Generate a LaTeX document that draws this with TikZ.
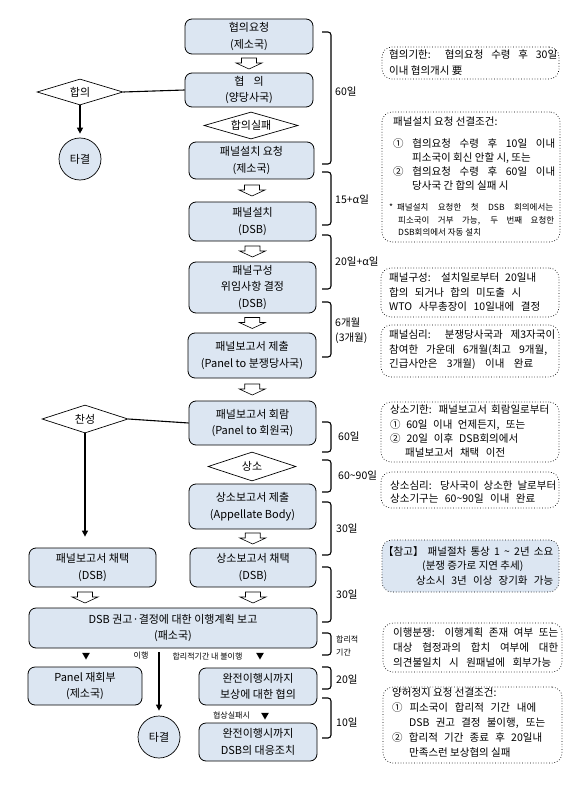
\documentclass[tikz,border=0pt]{standalone}
\usepackage{fontspec}
\setmainfont{Noto Sans CJK KR}
\usetikzlibrary{shapes.geometric,arrows.meta,calc}
\definecolor{boxblue}{RGB}{220,230,242}
\newcommand\jl[2]{\makebox[#1pt][s]{#2}}
\newcommand\bracepath[2]{\draw[brk] (322,#1) -- (331,#1) -- (331,#2) -- (322,#2);}
\tikzset{
  box/.style={draw, line width=0.8pt, rounded corners=7pt, fill=boxblue, inner sep=0pt, align=center, font=\fontsize{11}{16.5}\selectfont},
  diam/.style={draw, shape=diamond, aspect=3.3, fill=white, inner sep=0pt, line width=0.7pt, font=\fontsize{11}{12}\selectfont},
  circ/.style={draw, circle, fill=boxblue, minimum size=42pt, inner sep=0pt, line width=0.7pt, font=\fontsize{11}{12}\selectfont},
  note/.style={draw, dotted, line width=0.7pt, rounded corners=10pt, inner sep=0pt},
  ntext/.style={anchor=west, align=left, inner sep=0pt, font=\fontsize{10.5}{14.3}\selectfont},
  lab/.style={anchor=west, align=left, inner sep=0pt, font=\fontsize{10.5}{15}\selectfont},
  small/.style={inner sep=0pt, font=\fontsize{8}{13}\selectfont},
  brk/.style={line width=1.1pt, rounded corners=3pt},
  conn/.style={line width=1.1pt},
  arr/.style={line width=1.1pt, -{Triangle[length=6pt,width=6pt]}},
  tri/.style={fill=black, regular polygon, regular polygon sides=3, shape border rotate=180, minimum size=9pt, inner sep=0pt},
  hollow/.pic={\draw[line width=0.6pt, fill=white] (-7.5,-5.5) -- (7.5,-5.5) -- (7.5,-0.5) -- (13,-0.5) -- (0,5.5) -- (-13,-0.5) -- (-7.5,-0.5) -- cycle;}
}
\begin{document}
\begin{tikzpicture}[x=1pt,y=-1pt]
\useasboundingbox (0,0) rectangle (586,805);

% main boxes
\node[box, minimum width=128pt, minimum height=35pt] (b1) at (249,36.5) {협의요청\\(제소국)};
\node[box, minimum width=128pt, minimum height=34pt] (b2) at (249,90) {협\hspace{9pt}의\\(양당사국)};
\node[box, minimum width=125pt, minimum height=37pt] (b3) at (251.5,160.5) {패널설치 요청\\(제소국)};
\node[box, minimum width=127pt, minimum height=39pt] (b4) at (252.5,221.5) {패널설치\\(DSB)};
\node[box, minimum width=127pt, minimum height=51pt] (b5) at (252.5,287.5) {패널구성\\위임사항 결정\\(DSB)};
\node[box, minimum width=128pt, minimum height=45pt] (b6) at (252,355.5) {패널보고서 제출\\(Panel to 분쟁당사국)};
\node[box, minimum width=127pt, minimum height=44pt] (b7) at (252.5,423) {패널보고서 회람\\(Panel to 회원국)};
\node[box, minimum width=127pt, minimum height=45pt] (b8) at (252.5,506.5) {상소보고서 제출\\(Appellate Body)};
\node[box, minimum width=126pt, minimum height=39pt] (b9) at (253,567.5) {상소보고서 채택\\(DSB)};
\node[box, minimum width=127pt, minimum height=39pt] (b10) at (92.5,567.5) {패널보고서 채택\\(DSB)};
\node[box, minimum width=288pt, minimum height=40pt] (b11) at (173,628) {DSB 권고·결정에 대한 이행계획 보고\\(패소국)};
\node[box, minimum width=114pt, minimum height=38pt] (b12) at (85,686) {Panel 재회부\\(제소국)};
\node[box, minimum width=118pt, minimum height=37pt] (b13) at (258,686.5) {완전이행시까지\\보상에 대한 협의};
\node[box, minimum width=118pt, minimum height=38pt] (b14) at (258,742) {완전이행시까지\\DSB의 대응조치};

% diamonds and circles
\node[diam, minimum width=86pt, minimum height=26pt] (d1) at (80,92) {합의};
\node[diam, minimum width=94pt, minimum height=27pt] (d2) at (251,125.5) {합의실패};
\node[diam, minimum width=86pt, minimum height=28pt] (d3) at (85,419) {찬성};
\node[diam, minimum width=88pt, minimum height=29pt] (d4) at (252,466.5) {상소};
\node[circ] (c1) at (80,159) {타결};
\node[circ] (c2) at (159,737) {타결};

% connectors
\draw[conn] (d1.east) -- (b2.west);
\draw[arr, shorten >=4pt] (d1.south) -- (c1.north);
\draw[conn] (d3.east) -- (b7.west);
\draw[arr, shorten >=11pt] (d3.south) -- (d3.south |- b10.north);
\coordinate (s11) at (159,652);
\draw[arr, shorten >=5pt] (s11) -- (c2.north);

% hollow arrows
\pic at ($(b1.south)!0.5!(b2.north)$) {hollow};
\pic at ($(b3.south)!0.5!(b4.north)$) {hollow};
\pic at ($(b4.south)!0.5!(b5.north)$) {hollow};
\pic at ($(b5.south)!0.5!(b6.north)$) {hollow};
\pic at ($(b6.south)!0.5!(b7.north)$) {hollow};
\pic at ($(b8.south)!0.5!(b9.north)$) {hollow};
\pic at ($(b9.south)!0.5!(b9.south |- b11.north)$) {hollow};
\pic at ($(d3.south |- b10.south)!0.5!(d3.south |- b11.north)$) {hollow};

% small markers and labels
\node[tri] (t1) at (86,655) {};
\node[tri] (t2) at (260,655) {};
\node[tri] (t3) at (265,715) {};
\node[small] (s1) at (141,656) {이행};
\node[small] (s2) at (207.5,656) {합리적기간 내 불이행};
\node[small] (s3) at (231.5,715) {협상실패시};

% braces
\bracepath{32}{164}
\bracepath{172}{225}
\bracepath{235}{289}
\bracepath{302}{357}
\bracepath{422}{452}
\bracepath{460}{492}
\bracepath{502}{555}
\bracepath{567}{622}
\bracepath{633}{655}
\bracepath{667}{689}
\bracepath{698}{738}
\node[lab] (l1) at (335,92) {60일};
\node[lab] (l2) at (335,200) {15+α일};
\node[lab] (l3) at (335,262) {20일+α일};
\node[lab] (l4) at (335,330.5) {6개월\\(3개월)};
\node[lab] (l5) at (338,437) {60일};
\node[lab] (l6) at (338,475) {60\textasciitilde90일};
\node[lab] (l7) at (336,528) {30일};
\node[lab] (l8) at (336,594) {30일};
\node[lab, font=\fontsize{8}{13}\selectfont] (l9) at (336,645.5) {합리적\\기간};
\node[lab] (l10) at (336,679) {20일};
\node[lab] (l11) at (336,722) {10일};

% notes
\node[note, minimum width=177pt, minimum height=32pt] (n1) at (470.5,63) {};
\node[ntext, font=\fontsize{10.5}{16}\selectfont] (n1t) at (389,63) {\jl{168}{협의기한: 협의요청 수령 후 30일}\\이내 협의개시 要};

\node[note, minimum width=178pt, minimum height=130pt] (n2) at (471,177) {};
\node[ntext] (n2a) at (393,122) {패널설치 요청 선결조건:};
\node[ntext, font=\fontsize{10.5}{14}\selectfont] (n2b) at (393,164) {\jl{162}{① 협의요청 수령 후 10일 이내}\\\hspace*{19pt}피소국이 회신 안할 시, 또는\\\jl{162}{② 협의요청 수령 후 60일 이내}\\\hspace*{19pt}당사국 간 합의 실패 시};
\node[ntext, font=\fontsize{8.5}{12.5}\selectfont] (n2c) at (389,220) {*\hspace{4pt}\jl{156}{패널설치 요청한 첫 DSB 회의에서는}\\\hspace*{9pt}\jl{156}{피소국이 거부 가능, 두 번째 요청한}\\\hspace*{9pt}DSB회의에서 자동 설치};

\node[note, minimum width=178pt, minimum height=49pt] (n3) at (470,292.5) {};
\node[ntext, font=\fontsize{10.5}{14.5}\selectfont] (n3t) at (389,292.5) {\jl{147}{패널구성: 설치일로부터 20일내}\\\jl{132}{합의 되거나 합의 미도출 시}\\\jl{151}{WTO 사무총장이 10일내에 결정}};

\node[note, minimum width=178pt, minimum height=52pt] (n4) at (470,351) {};
\node[ntext, font=\fontsize{10.5}{14.5}\selectfont] (n4t) at (389,350) {\jl{166}{패널심리: 분쟁당사국과 제3자국이}\\\jl{158}{참여한 가운데 6개월(최고 9개월,}\\\jl{144}{긴급사안은 3개월) 이내 완료}};

\node[note, minimum width=178pt, minimum height=60pt] (n5) at (470,432) {};
\node[ntext] (n5t) at (390,431.5) {\jl{159}{상소기한: 패널보고서 회람일로부터}\\\jl{135}{① 60일 이내 언제든지, 또는}\\\jl{128}{② 20일 이후 DSB회의에서}\\\hspace*{15pt}\jl{100}{패널보고서 채택 이전}};

\node[note, minimum width=178pt, minimum height=36pt] (n6) at (470,490) {};
\node[ntext, font=\fontsize{10.5}{13}\selectfont] (n6t) at (390,492) {\jl{166}{상소심리: 당사국이 상소한 날로부터}\\\jl{145}{상소기구는 60\textasciitilde90일 이내 완료}};

\node[note, fill=boxblue, minimum width=177pt, minimum height=52pt] (n7) at (470.5,566) {};
\node[ntext, font=\fontsize{10.5}{14.5}\selectfont] (n7t) at (383,565.5) {\jl{170}{【참고】 패널절차 통상 1 \textasciitilde{} 2년 소요}\\\hspace*{39pt}(분쟁 증가로 지연 추세)\\\hspace*{33pt}\jl{137}{상소시 3년 이상 장기화 가능}};

\node[note, minimum width=179pt, minimum height=49pt] (n8) at (472.5,647.5) {};
\node[ntext, font=\fontsize{10.5}{15}\selectfont] (n8t) at (393,648) {\jl{165}{이행분쟁: 이행계획 존재 여부 또는}\\\jl{165}{대상 협정과의 합치 여부에 대한}\\\jl{158}{의견불일치 시 원패널에 회부가능}};

\node[note, minimum width=179pt, minimum height=76pt] (n9) at (472.5,725) {};
\node[ntext, font=\fontsize{10.5}{15}\selectfont] (n9t) at (392,723) {양허정지 요청 선결조건:\\\jl{144}{① 피소국이 합리적 기간 내에}\\\hspace*{17pt}\jl{136}{DSB 권고 결정 불이행, 또는}\\\jl{150}{② 합리적 기간 종료 후 20일내}\\\hspace*{17pt}만족스런 보상협의 실패};
\end{tikzpicture}
\end{document}
